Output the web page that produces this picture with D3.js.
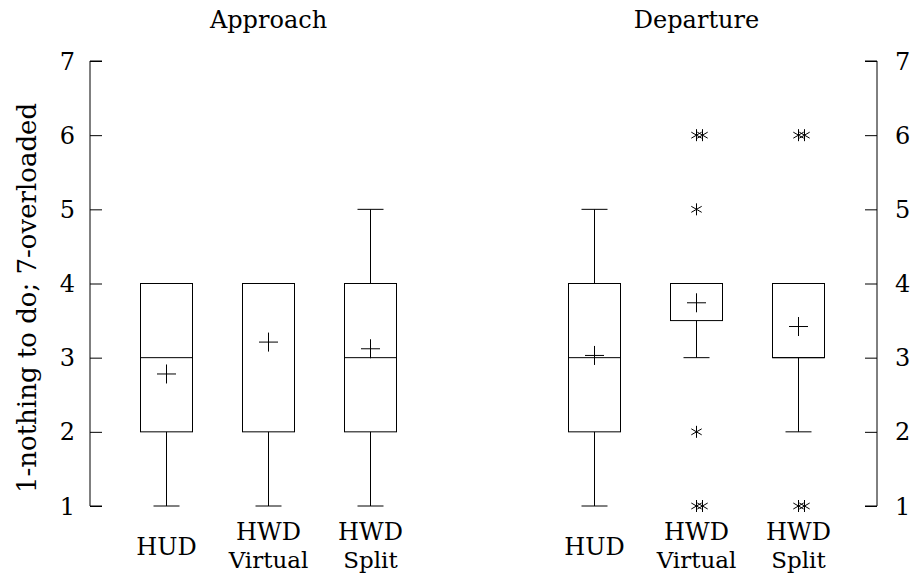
<!DOCTYPE html>
<html><head><meta charset="utf-8">
<script src="https://cdn.jsdelivr.net/npm/d3@7"></script>
<style>
html,body{margin:0;padding:0;background:#fff;}
</style></head>
<body><svg id="c" width="919" height="575"></svg>
<script>
// ---- data ----
const categories = ["HUD", "HWD\nVirtual", "HWD\nSplit"];
const panels = ["Approach", "Departure"];
const yTicks = [1, 2, 3, 4, 5, 6, 7];
const yLabel = "1-nothing to do; 7-overloaded";

const approachMin    = [1, 1, 1];
const approachQ1     = [2, 2, 2];
const approachMedian = [3, 4, 3];
const approachQ3     = [4, 4, 4];
const approachMax    = [4, 4, 5];
const approachMean   = [2.78, 3.21, 3.12];
const approachOutliers = [[], [], []];

const departureMin    = [1, 3, 2];
const departureQ1     = [2, 3.5, 3];
const departureMedian = [3, 4, 3];
const departureQ3     = [4, 4, 4];
const departureMax    = [5, 4, 4];
const departureMean   = [3.03, 3.74, 3.42];
const departureOutliers = [[], [6, 6, 5, 2, 1, 1], [6, 6, 1, 1]];

const panelData = [
  {title: panels[0], min: approachMin, q1: approachQ1, med: approachMedian, q3: approachQ3, max: approachMax, mean: approachMean, out: approachOutliers},
  {title: panels[1], min: departureMin, q1: departureQ1, med: departureMedian, q3: departureQ3, max: departureMax, mean: departureMean, out: departureOutliers}
];

// ---- drawing ----
const FONT = "'DejaVu Serif', 'Liberation Serif', serif";
const svg = d3.select("#c").attr("font-family", FONT);
const y = d3.scaleLinear().domain([1, 7]).range([506, 61]);
const panelRanges = [[90, 447], [518, 875]];
const boxW = 52, capW = 26, plusR = 9.5, astR = 6, dupOffset = 6;
const fs = 24;

// left axis
const gl = svg.append("g").attr("transform", "translate(90,0)")
  .call(d3.axisRight(y).tickValues(yTicks).tickSize(12).tickFormat(""));
gl.selectAll(".tick line").attr("stroke", "#000");
gl.select(".domain").attr("d", `M12,${y(7)}H0V${y(1)}H12`).attr("stroke", "#000");
svg.append("g").selectAll("text").data(yTicks).join("text")
  .attr("font-family", FONT)
  .attr("x", 75).attr("y", d => y(d)).attr("dy", "0.36em")
  .attr("text-anchor", "end").attr("font-size", fs).text(d => d);

// right axis
const gr = svg.append("g").attr("transform", "translate(877,0)")
  .call(d3.axisLeft(y).tickValues(yTicks).tickSize(12).tickFormat(""));
gr.selectAll(".tick line").attr("stroke", "#000");
gr.select(".domain").attr("d", `M-12,${y(7)}H0V${y(1)}H-12`).attr("stroke", "#000");
svg.append("g").selectAll("text").data(yTicks).join("text")
  .attr("font-family", FONT)
  .attr("x", 895).attr("y", d => y(d)).attr("dy", "0.36em")
  .attr("text-anchor", "start").attr("font-size", fs).text(d => d);

// y label
svg.append("text").attr("font-family", FONT).attr("transform", "translate(36,298) rotate(-90)")
  .attr("text-anchor", "middle").attr("font-size", 26).text(yLabel);

function asterisk(g, cx, cy) {
  const p = d3.path();
  for (const a of [90, 30, 150]) {
    const r = a * Math.PI / 180;
    p.moveTo(cx - astR * Math.cos(r), cy - astR * Math.sin(r));
    p.lineTo(cx + astR * Math.cos(r), cy + astR * Math.sin(r));
  }
  g.append("path").attr("d", p.toString()).attr("stroke", "#000").attr("stroke-width", 1).attr("fill", "none");
}

panelData.forEach((pd, pi) => {
  const x = d3.scalePoint().domain(categories).range(panelRanges[pi]).padding(0.75);
  const g = svg.append("g");
  const mid = (panelRanges[pi][0] + panelRanges[pi][1]) / 2;
  g.append("text").attr("font-family", FONT).attr("x", mid).attr("y", 28).attr("text-anchor", "middle")
    .attr("font-size", fs).text(pd.title);

  categories.forEach((c, i) => {
    const cx = x(c);
    const line = (x1, y1, x2, y2) => g.append("line").attr("x1", x1).attr("y1", y1).attr("x2", x2).attr("y2", y2)
      .attr("stroke", "#000").attr("stroke-width", 1);
    // whiskers
    line(cx, y(pd.q3[i]), cx, y(pd.max[i]));
    line(cx, y(pd.q1[i]), cx, y(pd.min[i]));
    line(cx - capW / 2, y(pd.max[i]), cx + capW / 2, y(pd.max[i]));
    line(cx - capW / 2, y(pd.min[i]), cx + capW / 2, y(pd.min[i]));
    // box
    g.append("rect").attr("x", cx - boxW / 2).attr("y", y(pd.q3[i]))
      .attr("width", boxW).attr("height", y(pd.q1[i]) - y(pd.q3[i]))
      .attr("fill", "none").attr("stroke", "#000").attr("stroke-width", 1);
    // median
    line(cx - boxW / 2, y(pd.med[i]), cx + boxW / 2, y(pd.med[i]));
    // mean
    const my = y(pd.mean[i]);
    line(cx - plusR, my, cx + plusR, my);
    line(cx, my - plusR, cx, my + plusR);
    // outliers
    const seen = {};
    pd.out[i].forEach(v => {
      seen[v] = (seen[v] || 0);
      asterisk(g, cx + seen[v] * dupOffset, y(v));
      seen[v]++;
    });
    // category label
    const lines = c.split("\n");
    if (lines.length === 1) {
      g.append("text").attr("font-family", FONT).attr("text-anchor", "middle").attr("font-size", fs)
        .attr("x", cx).attr("y", 555).text(lines[0]);
    } else {
      lines.forEach((l, li) => g.append("text").attr("font-family", FONT).attr("text-anchor", "middle")
        .attr("font-size", li === 0 ? fs : fs - 1)
        .attr("x", cx).attr("y", 540 + li * 28).text(l));
    }
  });
});
</script></body></html>
